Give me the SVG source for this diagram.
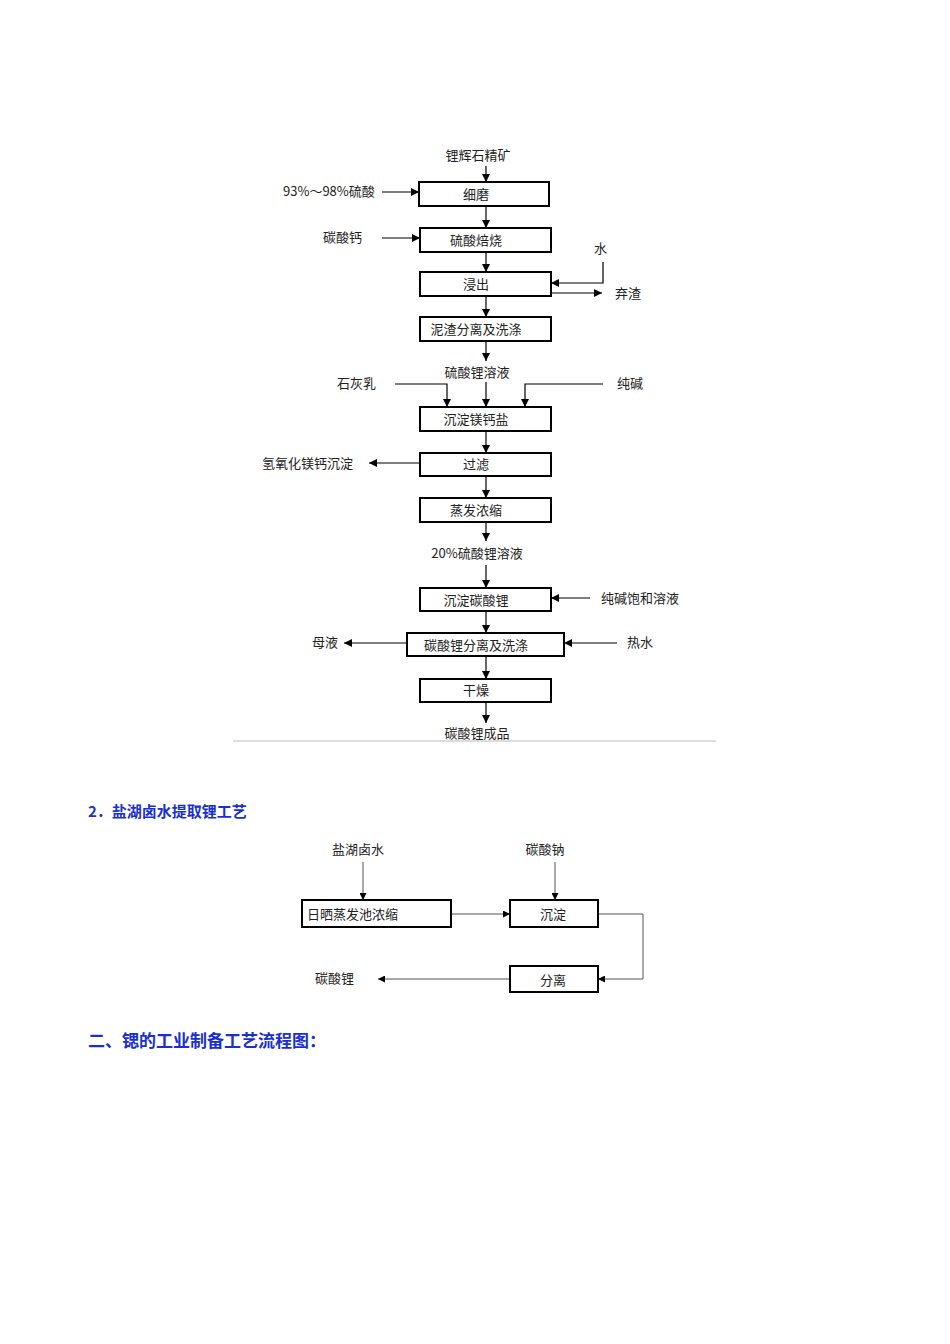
<svg xmlns="http://www.w3.org/2000/svg" width="950" height="1344" viewBox="0 0 950 1344">
<style>
.b{fill:#fff;stroke:#000;stroke-width:2}
.t{font-family:"Noto Sans CJK SC",sans-serif;font-size:13px;fill:#222}
.c{text-anchor:middle}
.l{stroke:#000;stroke-width:1.2;fill:none}
.g{stroke:#555;stroke-width:1;fill:none}
.h{font-family:"Noto Sans CJK SC",sans-serif;font-weight:bold;fill:#1a2fd0}
</style>
<defs>
<marker id="a" viewBox="0 0 10 10" refX="10" refY="5" markerWidth="7" markerHeight="7" orient="auto"><path d="M0,0L10,5L0,10z" fill="#000"/></marker>
</defs>
<rect width="950" height="1344" fill="#fff"/>
<g id="connectors">
<path class="l" marker-end="url(#a)" d="M486,166V182"/>
<path class="l" marker-end="url(#a)" d="M382,192H419"/>
<path class="l" marker-end="url(#a)" d="M486,206V228"/>
<path class="l" marker-end="url(#a)" d="M382,238H420"/>
<path class="l" marker-end="url(#a)" d="M486,252V272"/>
<path class="l" marker-end="url(#a)" d="M603,262V283H551"/>
<path class="l" marker-end="url(#a)" d="M551,293H602"/>
<path class="l" marker-end="url(#a)" d="M486,296V317"/>
<path class="l" marker-end="url(#a)" d="M486,341V361"/>
<path class="l" marker-end="url(#a)" d="M395,384H447V407"/>
<path class="l" marker-end="url(#a)" d="M486,382V407"/>
<path class="l" marker-end="url(#a)" d="M603,384H525V407"/>
<path class="l" marker-end="url(#a)" d="M486,431V453"/>
<path class="l" marker-end="url(#a)" d="M420,463H369"/>
<path class="l" marker-end="url(#a)" d="M486,476V498"/>
<path class="l" marker-end="url(#a)" d="M486,522V541"/>
<path class="l" marker-end="url(#a)" d="M486,565V588"/>
<path class="l" marker-end="url(#a)" d="M590,598H551"/>
<path class="l" marker-end="url(#a)" d="M486,611V633"/>
<path class="l" marker-end="url(#a)" d="M407,643H344"/>
<path class="l" marker-end="url(#a)" d="M617,643H564"/>
<path class="l" marker-end="url(#a)" d="M486,656V679"/>
<path class="l" marker-end="url(#a)" d="M486,702V723"/>
<path d="M233,741H716" stroke="#ddd" stroke-width="2"/>
<path class="g" marker-end="url(#a)" d="M363,862V900"/>
<path class="g" marker-end="url(#a)" d="M555,862V900"/>
<path class="g" marker-end="url(#a)" d="M451,914H510"/>
<path class="g" marker-end="url(#a)" d="M598,914H643V979H598"/>
<path class="g" marker-end="url(#a)" d="M510,979H378"/>
</g>
<g id="n1"><text class="t c" x="478" y="160">锂辉石精矿</text></g>
<g id="n2"><text class="t" x="283" y="196">93%～98%硫酸</text></g>
<g id="n3"><rect class="b" x="419" y="182" width="130" height="24"/><text class="t c" x="476" y="199">细磨</text></g>
<g id="n4"><text class="t" x="323" y="242">碳酸钙</text></g>
<g id="n5"><rect class="b" x="420" y="228" width="131" height="24"/><text class="t c" x="476" y="245">硫酸焙烧</text></g>
<g id="n6"><text class="t" x="594" y="253">水</text></g>
<g id="n7"><rect class="b" x="420" y="272" width="131" height="24"/><text class="t c" x="476" y="289">浸出</text></g>
<g id="n8"><text class="t" x="615" y="298">弃渣</text></g>
<g id="n9"><rect class="b" x="420" y="317" width="131" height="24"/><text class="t c" x="476" y="334">泥渣分离及洗涤</text></g>
<g id="n10"><text class="t c" x="477" y="377">硫酸锂溶液</text></g>
<g id="n11"><text class="t" x="337" y="388">石灰乳</text></g>
<g id="n12"><text class="t" x="617" y="388">纯碱</text></g>
<g id="n13"><rect class="b" x="420" y="407" width="131" height="24"/><text class="t c" x="476" y="424">沉淀镁钙盐</text></g>
<g id="n14"><rect class="b" x="420" y="453" width="131" height="23"/><text class="t c" x="476" y="469">过滤</text></g>
<g id="n15"><text class="t" x="262" y="468">氢氧化镁钙沉淀</text></g>
<g id="n16"><rect class="b" x="420" y="498" width="131" height="24"/><text class="t c" x="476" y="515">蒸发浓缩</text></g>
<g id="n17"><text class="t c" x="477" y="558">20%硫酸锂溶液</text></g>
<g id="n18"><rect class="b" x="420" y="588" width="131" height="23"/><text class="t c" x="476" y="605">沉淀碳酸锂</text></g>
<g id="n19"><text class="t" x="601" y="603">纯碱饱和溶液</text></g>
<g id="n20"><rect class="b" x="407" y="633" width="157" height="23"/><text class="t c" x="476" y="650">碳酸锂分离及洗涤</text></g>
<g id="n21"><text class="t" x="312" y="647">母液</text></g>
<g id="n22"><text class="t" x="627" y="647">热水</text></g>
<g id="n23"><rect class="b" x="420" y="679" width="131" height="23"/><text class="t c" x="476" y="695">干燥</text></g>
<g id="n24"><text class="t c" x="477" y="738">碳酸锂成品</text></g>
<text class="h" x="88" y="817" font-size="15">2．盐湖卤水提取锂工艺</text>
<g id="m1"><text class="t c" x="358" y="854" font-size="15" fill="#444">盐湖卤水</text></g>
<g id="m2"><text class="t c" x="545" y="854" font-size="15" fill="#444">碳酸钠</text></g>
<g id="m3"><rect class="b" x="302" y="900" width="149" height="27"/><text class="t" x="307" y="919" font-size="15" fill="#444">日晒蒸发池浓缩</text></g>
<g id="m4"><rect class="b" x="510" y="900" width="88" height="27"/><text class="t c" x="553" y="919" font-size="15" fill="#444">沉淀</text></g>
<g id="m5"><rect class="b" x="510" y="966" width="88" height="26"/><text class="t c" x="553" y="985" font-size="15" fill="#444">分离</text></g>
<g id="m6"><text class="t" x="315" y="983" font-size="15" fill="#444">碳酸锂</text></g>
<text class="h" x="88" y="1047" font-size="17">二、锶的工业制备工艺流程图：</text>
</svg>
